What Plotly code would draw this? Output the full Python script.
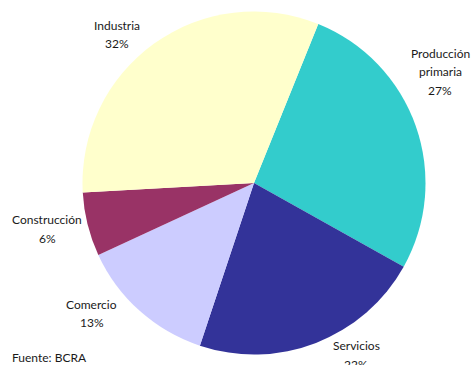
import math
import plotly.graph_objects as go

# Composición por sector (%)
sectores = ["Producción\nprimaria", "Servicios", "Comercio", "Construcción", "Industria"]
participacion = [27, 22, 13, 6, 32]
colores = ["#33CCCC", "#333399", "#CCCCFF", "#993366", "#FFFFCC"]
fuente = "Fuente: BCRA"

W, H = 471, 365
CX, CY, R = 254, 183, 171.5      # pie centre and radius in pixels
ROTATION = 22                    # first slice starts 22° clockwise from 12 o'clock
LABEL_R = 1.2 * R
LINE_H = 18.5
# pixel nudges applied to each label after radial placement
nudges = [(-8, -43), (28, -20), (-25, -23), (-7, -4), (-17, 19)]

FONT = dict(family="Lato, 'Noto Sans', sans-serif", size=12, color="#1a1a1a")

fig = go.Figure(go.Pie(
    labels=[s.replace("\n", " ") for s in sectores],
    values=participacion,
    marker=dict(colors=colores, line=dict(width=0)),
    sort=False,
    direction="clockwise",
    rotation=ROTATION,
    textinfo="none",
    hoverinfo="label+percent",
    showlegend=False,
    domain=dict(x=[(CX - R) / W, (CX + R) / W],
                y=[1 - (CY + R) / H, 1 - (CY - R) / H]),
))

annotations = []
total = sum(participacion)
start = ROTATION
for name, val, (nx, ny) in zip(sectores, participacion, nudges):
    span = 360 * val / total
    mid = math.radians(start + span / 2)
    start += span
    px = CX + LABEL_R * math.sin(mid) + nx
    py = CY - LABEL_R * math.cos(mid) + ny
    lines = name.split("\n") + [f"{round(100 * val / total)}%"]
    n = len(lines)
    for i, line in enumerate(lines):
        ly = py + (i - (n - 1) / 2) * LINE_H
        annotations.append(dict(
            x=px / W, y=1 - ly / H, xref="paper", yref="paper",
            text=line, showarrow=False, font=FONT,
            xanchor="center", yanchor="middle",
        ))

annotations.append(dict(
    x=10 / W, y=1 - 357 / H, xref="paper", yref="paper",
    text=fuente, showarrow=False, font=FONT,
    xanchor="left", yanchor="middle",
))

fig.update_layout(
    width=W, height=H,
    margin=dict(l=0, r=0, t=0, b=0),
    paper_bgcolor="white",
    plot_bgcolor="white",
    annotations=annotations,
)

fig.write_html("out.html")
